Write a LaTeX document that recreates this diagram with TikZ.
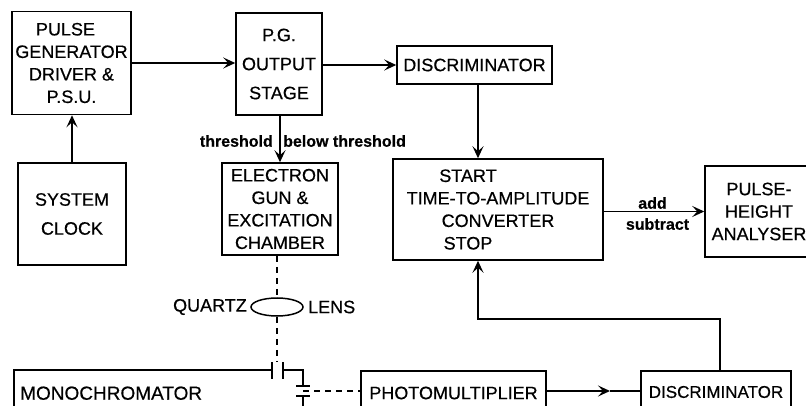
\documentclass[tikz,border=0pt]{standalone}
\usepackage{fontspec}
\setmainfont{Liberation Sans}[FakeBold=0.5]
\usetikzlibrary{arrows.meta, shapes.geometric}

\begin{document}
\begin{tikzpicture}[
    x=1pt, y=-1pt,
    text=black,
    >={Stealth[length=12pt, width=11pt, inset=5pt]},
    box/.style={draw=black, line width=1.5pt, align=center, inner sep=0pt, font=\fontsize{18}{22.5}\selectfont},
    widebox/.style={box, font=\fontsize{18}{29}\selectfont},
    openbox/.style={align=left, inner sep=0pt, font=\fontsize{19}{22}\selectfont},
    tag/.style={inner sep=0pt, font=\fontsize{16}{18}\selectfont\bfseries},
    lenstext/.style={inner sep=0pt, font=\fontsize{18}{22}\selectfont},
    arrowline/.style={->, line width=1.5pt},
    beam/.style={line width=1.5pt, dash pattern=on 6pt off 5pt},
    wire/.style={line width=1.5pt}
]
\useasboundingbox (0, 0) rectangle (806, 406);
\clip (0, 0) rectangle (806, 406);

% ==================== TOP ROW ====================
\node[box, minimum width=119pt, minimum height=103pt] (driver) at (71.5, 63) {PULSE\hspace{12pt}\mbox{}\\GENERATOR\\DRIVER \&\\P.S.U.};
\node[widebox, minimum width=108pt, minimum height=102pt] (clock) at (72, 214) {SYSTEM\\CLOCK};
\node[widebox, minimum width=86pt, minimum height=102pt] (output) at (279, 64) {P.G.\\OUTPUT\\STAGE};
\node[box, minimum width=155pt, minimum height=38pt] (disc) at (474.5, 65) {DISCRIMINATOR};

% ==================== MIDDLE ROW ====================
\node[box, minimum width=116pt, minimum height=92pt] (gun) at (280, 209) {ELECTRON\\GUN \&\\EXCITATION\\CHAMBER};
\node[box, minimum width=210pt, minimum height=101pt] (tac) at (498, 209.5) {START\hspace{60pt}\mbox{}\\TIME-TO-AMPLITUDE\\CONVERTER\\STOP\hspace{60pt}\mbox{}};
\node[box, minimum width=108pt, minimum height=91pt] (pha) at (759, 211.5) {PULSE-\\HEIGHT\\ANALYSER};

% ==================== BOTTOM ROW ====================
\node[openbox, minimum height=46pt, text width=250pt, anchor=north west] (mono) at (20, 370) {MONOCHROMATOR};
\node[box, minimum width=185pt, minimum height=44pt] (pm) at (453.5, 393) {PHOTOMULTIPLIER};
\node[box, minimum width=150pt, minimum height=42pt, font=\fontsize{17}{22}\selectfont] (discb) at (716, 392) {DISCRIMINATOR};

% Lens
\node[draw=black, line width=1.5pt, ellipse, minimum width=52pt, minimum height=18pt, inner sep=0pt] (lens) at (277, 307) {};
\node[lenstext, anchor=east] (quartz) at (247, 307) {QUARTZ};
\node[lenstext, anchor=west] (lenslabel) at (308, 307) {LENS};

% Slits
\coordinate (slitatop) at (272, 362);
\coordinate (slitabot) at (272, 379);
\coordinate (slitbtop) at (283, 362);
\coordinate (slitbbot) at (283, 379);
\coordinate (slitcleft) at (296, 386);
\coordinate (slitcright) at (310, 386);
\coordinate (slitdleft) at (296, 396);
\coordinate (slitdright) at (310, 396);
\coordinate (slitdmid) at (303, 391);
\coordinate (feedcorner) at (720, 319);
\coordinate (feedend) at (478, 319);
\coordinate (pmhead) at (610, 391);

% Tags
\node[tag, anchor=east] (thresh) at (273, 141) {threshold};
\node[tag, anchor=west] (below) at (283, 141) {below threshold};
\node[tag] (addtag) at (652.5, 203) {add};
\node[tag] (subtag) at (657.5, 224) {subtract};

% Arrows
\draw[arrowline] (driver.east) -- (driver.east -| output.west);
\draw[arrowline] (clock.north) -- (clock.north |- driver.south);
\draw[arrowline] (output.east |- disc.west) -- (disc.west);
\draw[arrowline] (gun.north |- output.south) -- (gun.north);
\draw[arrowline] (disc.south -| feedend) -- (feedend |- tac.north);
\draw[arrowline] (tac.east |- pha.west) -- (pha.west);
\draw[arrowline] (pm.east |- pmhead) -- (pmhead);
\draw[wire] (pmhead) -- (pmhead -| discb.west);
\draw[arrowline] (feedcorner |- discb.north) -- (feedcorner) -- (feedend) -- (feedend |- tac.south);

% Light path
\draw[wire] (14, 406) |- (slitatop |- mono.north);
\draw[wire] (slitatop) -- (slitabot);
\draw[wire] (slitbtop) -- (slitbbot);
\draw[wire] (slitbtop |- mono.north) -| (slitdmid |- slitcleft);
\draw[wire] (slitcleft) -- (slitcright);
\draw[wire] (slitdleft) -- (slitdright);
\draw[wire] (slitdmid |- slitdleft) -- (303, 406);
\draw[beam] (gun.south -| lens.north) -- (lens.north);
\draw[beam] (lens.south) -- (277, 362);
\draw[beam] (slitdmid) -- (slitdmid -| pm.west);

\end{tikzpicture}
\end{document}
